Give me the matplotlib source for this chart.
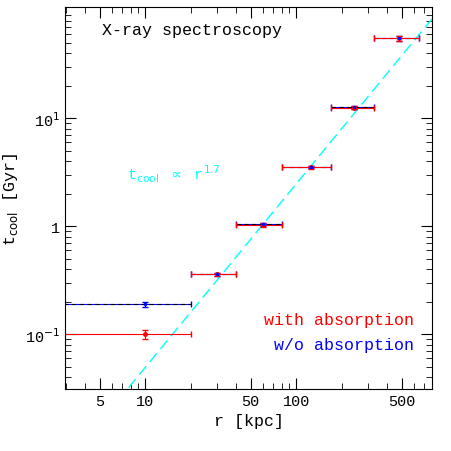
import matplotlib
matplotlib.use("Agg")
import matplotlib.pyplot as plt
import numpy as np
from matplotlib.ticker import FixedLocator, FixedFormatter, LogLocator, NullFormatter

plt.rcParams['font.family'] = ['Liberation Mono', 'DejaVu Sans Mono']

r_red = [10, 30, 60, 125, 240, 480]
r_lo = [2.0, 20, 40, 80, 170, 330]
r_hi = [20, 40, 80, 170, 330, 650]
t_red = [0.10, 0.36, 1.02, 3.5, 12.5, 55]
t_red_err = [0.01, 0.012, 0.04, 0.1, 0.4, 2.5]
r_blue = [10, 30, 60, 125, 240, 480]
t_blue = [0.19, 0.36, 1.04, 3.55, 12.6, 55]
t_blue_err = [0.01, 0.012, 0.04, 0.1, 0.4, 2.5]
fit_norm, fit_slope = 0.00098, 1.7

fig = plt.figure(figsize=(4.52, 4.52), dpi=100)
ax = fig.add_axes([0.144, 0.137, 0.812, 0.845])
ax.set_xscale('log'); ax.set_yscale('log')
ax.set_xlim(2.95, 795); ax.set_ylim(0.031, 107)

rr = np.array([2.95, 795])
ax.plot(rr, fit_norm * rr**fit_slope, color='cyan', ls=(0, (8, 4)), lw=1)

xl = np.array(r_red) - np.array(r_lo); xh = np.array(r_hi) - np.array(r_red)
ax.errorbar(r_blue, t_blue, xerr=[xl, xh], yerr=t_blue_err, fmt='none',
            ecolor='blue', elinewidth=0.8, capsize=2.5)
for x0, x1, y in zip(r_lo, r_hi, t_blue):
    ax.plot([x0, x1], [y, y], color='black', ls=(0, (4, 3)), lw=0.8)
ax.errorbar(r_red, t_red, xerr=[xl, xh], yerr=t_red_err, fmt='none',
            ecolor='red', elinewidth=0.8, capsize=2.5)
ax.plot(r_red, t_red, 'o', color='red', ms=2.5)
ax.plot(r_blue, t_blue, 'o', color='blue', ms=1.5)

ax.xaxis.set_major_locator(FixedLocator([5, 10, 50, 100, 500]))
ax.xaxis.set_major_formatter(FixedFormatter(['5', '10', '50', '100', '500']))
ax.xaxis.set_minor_locator(LogLocator(subs=np.arange(2, 10)))
ax.xaxis.set_minor_formatter(NullFormatter())
ax.yaxis.set_major_locator(FixedLocator([0.1, 1, 10]))
ax.yaxis.set_major_formatter(FixedFormatter([r'10$^{-1}$', '1', r'10$^{1}$']))
ax.yaxis.set_minor_locator(LogLocator(subs=np.arange(2, 10)))
ax.yaxis.set_minor_formatter(NullFormatter())
ax.tick_params(which='both', direction='in', top=True, right=True, labelsize=11)
ax.tick_params(which='major', length=8)
ax.tick_params(which='minor', length=4)

ax.set_xlabel('r [kpc]', fontsize=12)
ax.set_ylabel(r't$_{\rm cool}$ [Gyr]', fontsize=12)
ax.text(0.1, 0.93, 'X-ray spectroscopy', transform=ax.transAxes, fontsize=12)
ax.text(0.17, 0.55, r't$_{\rm cool}$ $\propto$ r$^{1.7}$', transform=ax.transAxes,
        fontsize=11, color='cyan')
ax.text(0.95, 0.17, 'with absorption', transform=ax.transAxes, fontsize=12,
        color='red', ha='right')
ax.text(0.95, 0.105, 'w/o absorption', transform=ax.transAxes, fontsize=12,
        color='blue', ha='right')
fig.savefig('out.png', dpi=100)
